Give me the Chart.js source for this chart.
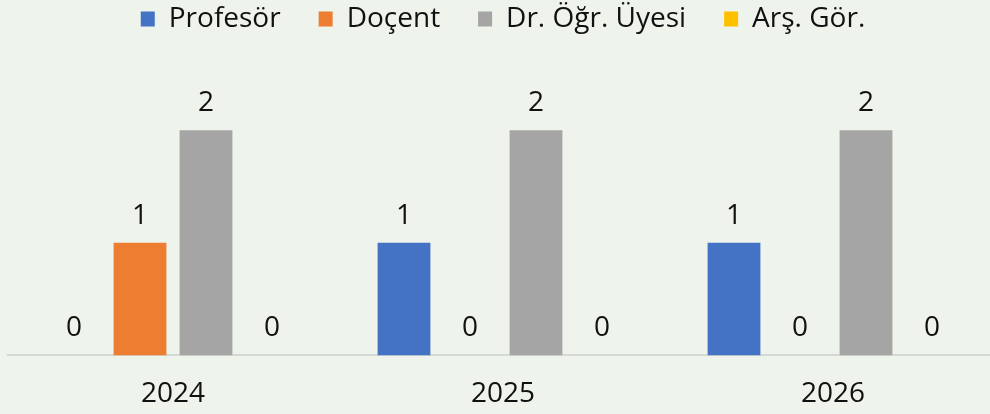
<!DOCTYPE html>
<html>
<head>
<meta charset="utf-8">
<script src="https://cdn.jsdelivr.net/npm/chart.js@4"></script>
<style>
  html, body { margin: 0; padding: 0; background: #eef3ec; overflow: hidden; }
  #wrap { width: 1000px; height: 414px; }
</style>
</head>
<body>
<div id="wrap"><canvas id="chart"></canvas></div>
<script>
// values
const years = ["2024", "2025", "2026"];
const profesor = [0, 1, 1];
const docent = [1, 0, 0];
const drOgrUyesi = [2, 2, 2];
const arsGor = [0, 0, 0];

const FONT = "'Open Sans', 'Noto Sans', sans-serif";

// value labels over each bar
const barLabels = {
  id: 'barLabels',
  afterDatasetsDraw(chart) {
    const ctx = chart.ctx;
    ctx.save();
    ctx.font = "28px " + FONT;
    ctx.fillStyle = "#111";
    ctx.textAlign = "center";
    ctx.textBaseline = "middle";
    chart.data.datasets.forEach((ds, i) => {
      chart.getDatasetMeta(i).data.forEach((bar, j) => {
        ctx.fillText(String(ds.data[j]), bar.x, bar.y - 27);
      });
    });
    ctx.restore();
  }
};

// push the plot down under the legend
const legendGap = {
  id: 'legendGap',
  beforeInit(chart) {
    const fit = chart.legend.fit;
    chart.legend.fit = function () {
      fit.bind(chart.legend)();
      this.height += 31;
    };
  }
};

new Chart(document.getElementById("chart"), {
  type: "bar",
  data: {
    labels: years,
    datasets: [
      { label: "Profesör", data: profesor, backgroundColor: "#4472c4" },
      { label: "Doçent", data: docent, backgroundColor: "#ed7d31" },
      { label: "Dr. Öğr. Üyesi", data: drOgrUyesi, backgroundColor: "#a5a5a5" },
      { label: "Arş. Gör.", data: arsGor, backgroundColor: "#ffc000" }
    ]
  },
  options: {
    responsive: true,
    maintainAspectRatio: false,
    animation: false,
    datasets: { bar: { categoryPercentage: 0.8, barPercentage: 0.8 } },
    layout: { padding: { left: 8, right: 2, top: -33, bottom: -11 } },
    plugins: {
      legend: {
        position: "top",
        labels: {
          boxWidth: 14,
          boxHeight: 15,
          padding: 38,
          color: "#111",
          font: { family: FONT, size: 28 }
        }
      },
      tooltip: { enabled: false }
    },
    scales: {
      x: {
        grid: { display: false },
        border: { color: "#d5d9d3", width: 2 },
        ticks: {
          color: "#111",
          padding: 14,
          font: { family: FONT, size: 28 }
        }
      },
      y: {
        display: false,
        min: 0,
        max: 2.5
      }
    }
  },
  plugins: [barLabels, legendGap]
});
</script>
</body>
</html>
